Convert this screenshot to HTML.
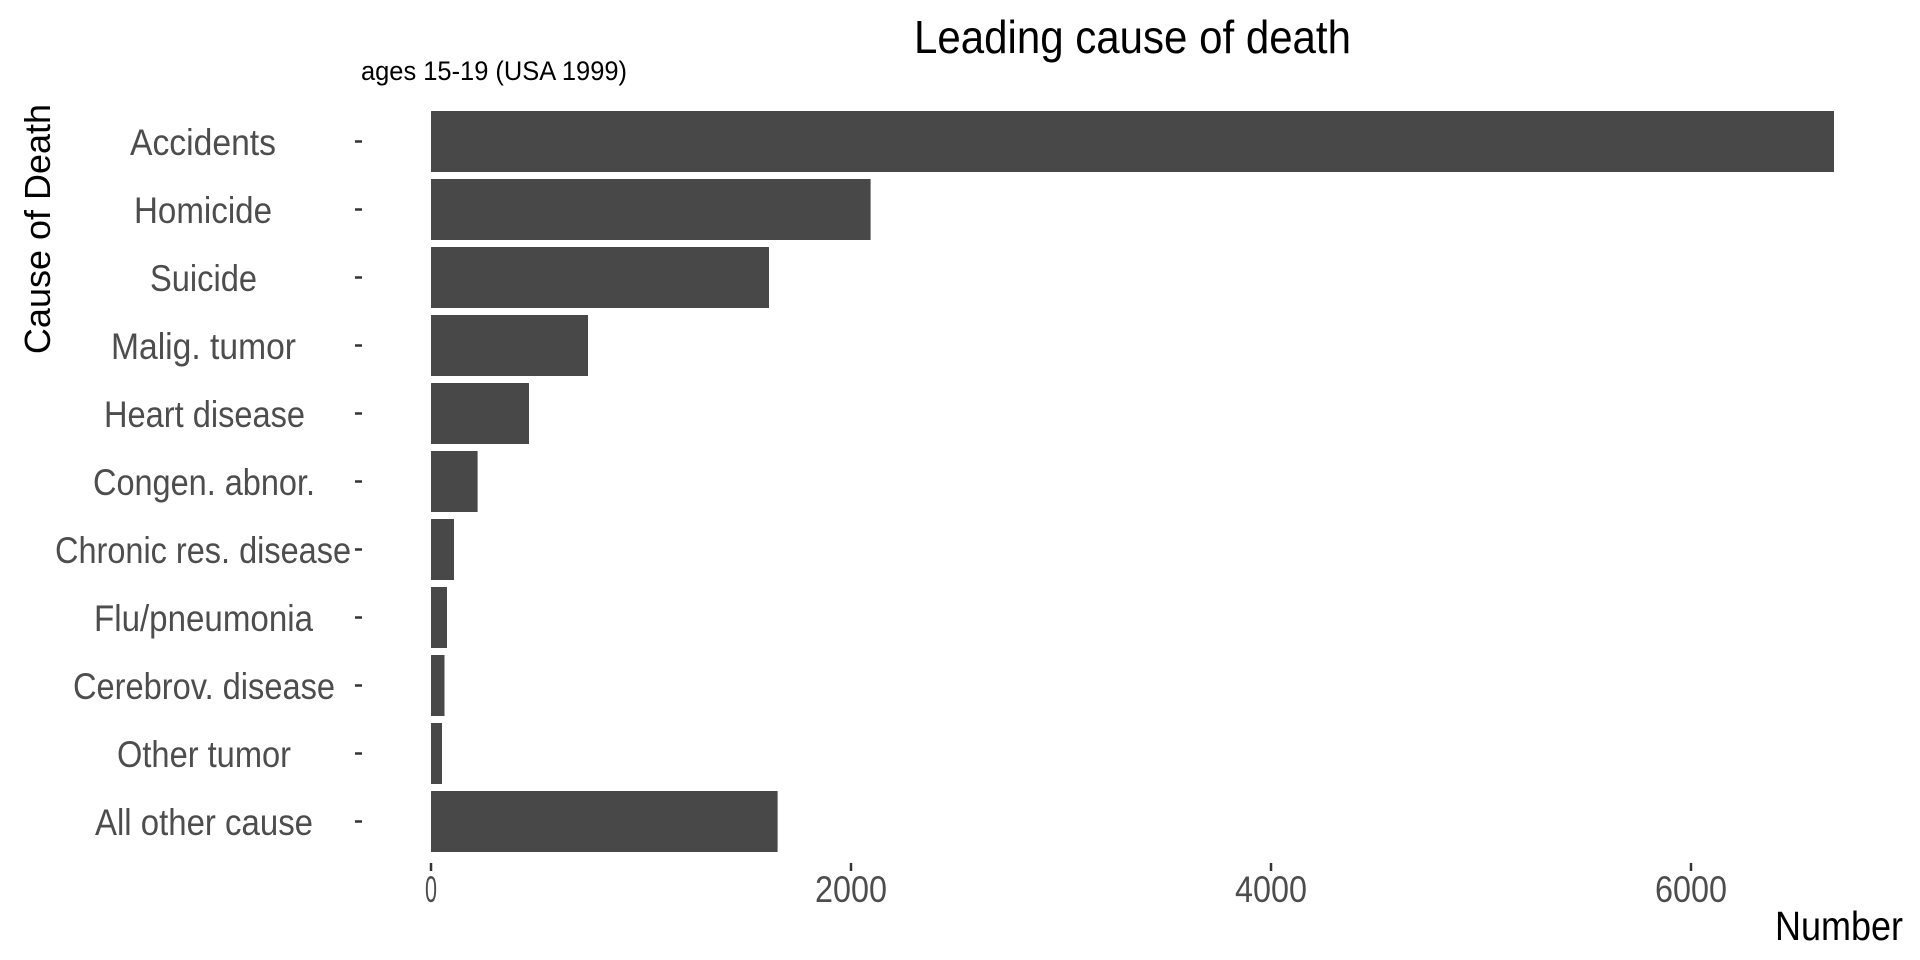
<!DOCTYPE html>
<html><head><meta charset="utf-8"><style>
html,body{margin:0;padding:0;background:#fff;width:1920px;height:960px;overflow:hidden}
text{font-family:"Liberation Sans",sans-serif}
</style></head><body>
<svg width="1920" height="960" viewBox="0 0 1920 960" xmlns="http://www.w3.org/2000/svg">
<text x="914" y="53" font-size="46" textLength="437" lengthAdjust="spacingAndGlyphs" fill="#000">Leading cause of death</text>
<text x="361" y="80" font-size="27" textLength="266" lengthAdjust="spacingAndGlyphs" fill="#000">ages 15-19 (USA 1999)</text>
<text transform="translate(50,229) rotate(-90)" font-size="36" text-anchor="middle" fill="#000">Cause of Death</text>
<g fill="#484848">
<rect x="431" y="111" width="1403" height="61"/>
<rect x="431" y="179" width="439.6" height="61"/>
<rect x="431" y="247" width="338" height="61"/>
<rect x="431" y="315" width="157" height="61"/>
<rect x="431" y="383" width="98" height="61"/>
<rect x="431" y="451" width="46.6" height="61"/>
<rect x="431" y="519" width="23" height="61"/>
<rect x="431" y="587" width="16" height="61"/>
<rect x="431" y="655" width="13.5" height="61"/>
<rect x="431" y="723" width="11" height="61"/>
<rect x="431" y="791" width="346.6" height="61"/>
</g>
<g font-size="37" fill="#4d4d4d" lengthAdjust="spacingAndGlyphs">
<text x="130" y="155" textLength="146" lengthAdjust="spacingAndGlyphs">Accidents</text>
<text x="134" y="223" textLength="138" lengthAdjust="spacingAndGlyphs">Homicide</text>
<text x="150" y="291" textLength="107" lengthAdjust="spacingAndGlyphs">Suicide</text>
<text x="111" y="359" textLength="185" lengthAdjust="spacingAndGlyphs">Malig. tumor</text>
<text x="104" y="427" textLength="201" lengthAdjust="spacingAndGlyphs">Heart disease</text>
<text x="93" y="495" textLength="222" lengthAdjust="spacingAndGlyphs">Congen. abnor.</text>
<text x="55" y="563" textLength="296" lengthAdjust="spacingAndGlyphs">Chronic res. disease</text>
<text x="94" y="631" textLength="219" lengthAdjust="spacingAndGlyphs">Flu/pneumonia</text>
<text x="73" y="699" textLength="262" lengthAdjust="spacingAndGlyphs">Cerebrov. disease</text>
<text x="117" y="767" textLength="174" lengthAdjust="spacingAndGlyphs">Other tumor</text>
<text x="95" y="835" textLength="218" lengthAdjust="spacingAndGlyphs">All other cause</text>
</g>
<g stroke="#333" stroke-width="2.5">
<line x1="355" x2="362" y1="141.5" y2="141.5"/>
<line x1="355" x2="362" y1="209.5" y2="209.5"/>
<line x1="355" x2="362" y1="277.5" y2="277.5"/>
<line x1="355" x2="362" y1="345.5" y2="345.5"/>
<line x1="355" x2="362" y1="413.5" y2="413.5"/>
<line x1="355" x2="362" y1="481.5" y2="481.5"/>
<line x1="355" x2="362" y1="549.5" y2="549.5"/>
<line x1="355" x2="362" y1="617.5" y2="617.5"/>
<line x1="355" x2="362" y1="685.5" y2="685.5"/>
<line x1="355" x2="362" y1="753.5" y2="753.5"/>
<line x1="355" x2="362" y1="821.5" y2="821.5"/>
<line x1="431" x2="431" y1="863" y2="871"/>
<line x1="851" x2="851" y1="863" y2="871"/>
<line x1="1271" x2="1271" y1="863" y2="871"/>
<line x1="1691" x2="1691" y1="863" y2="871"/>
</g>
<g font-size="37" fill="#4d4d4d">
<text x="425" y="902" textLength="12" lengthAdjust="spacingAndGlyphs">0</text>
<text x="815" y="902" textLength="72" lengthAdjust="spacingAndGlyphs">2000</text>
<text x="1235" y="902" textLength="72" lengthAdjust="spacingAndGlyphs">4000</text>
<text x="1655" y="902" textLength="72" lengthAdjust="spacingAndGlyphs">6000</text>
</g>
<text x="1775" y="940" font-size="41" textLength="128" lengthAdjust="spacingAndGlyphs" fill="#000">Number</text>
</svg>
</body></html>
